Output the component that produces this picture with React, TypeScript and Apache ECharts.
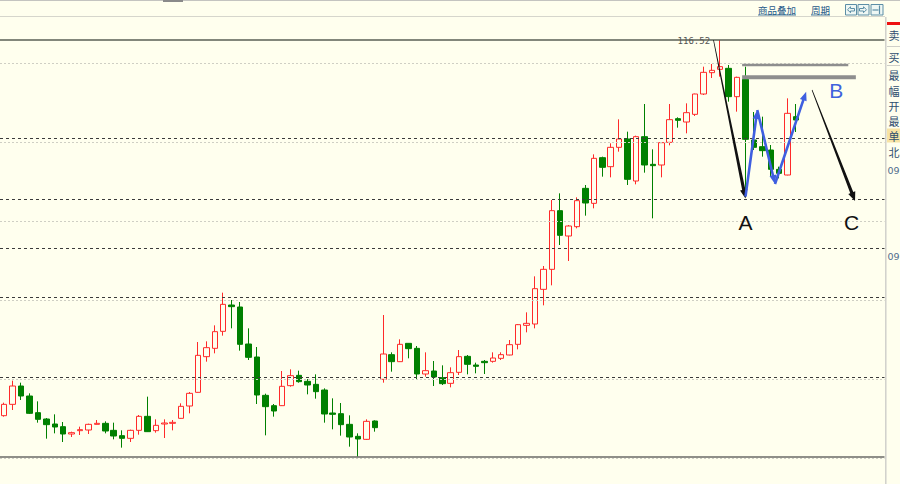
import React, { useEffect, useRef } from "react";
import * as echarts from "echarts";

const BG = "#FFFFEE";

// 105 weekly slots on the time axis; the last ones are still empty
const categories: string[] = Array.from({ length: 105 }, (_, i) => String(i + 1));

const opens = [71.44, 72.8, 75.0, 73.8, 71.8, 71.04, 70.44, 70.12, 69.24, 69.64, 69.72, 70.4, 70.52, 69.68, 69.04, 68.72, 69.68, 71.36, 69.64, 70.44, 70.52, 71.12, 72.6, 74.24, 78.52, 79.52, 81.56, 84.72, 84.48, 80.04, 78.48, 73.88, 72.64, 72.64, 75.04, 76.28, 75.56, 75.2, 74.52, 71.76, 71.68, 70.4, 68.96, 68.6, 70.8, 75.8, 78.76, 77.92, 80.12, 79.52, 76.44, 76.8, 76.0, 75.32, 76.64, 78.56, 77.52, 77.96, 77.96, 78.32, 78.72, 80.0, 82.28, 82.44, 86.6, 89.0, 96.04, 93.0, 94.12, 98.72, 96.92, 102.4, 101.32, 103.64, 104.64, 99.6, 104.92, 101.6, 101.52, 104.24, 107.08, 106.68, 107.6, 110.04, 112.6, 113.0, 113.12, 109.72, 111.8, 104.52, 103.72, 103.32, 101.0, 100.32, 107.32];
const closes = [72.8, 75.0, 73.8, 71.72, 71.0, 70.36, 70.08, 69.24, 69.4, 69.76, 70.4, 70.52, 69.6, 69.0, 68.72, 69.68, 71.36, 69.52, 70.28, 70.56, 70.64, 72.56, 74.12, 78.68, 79.6, 81.52, 84.8, 84.52, 80.0, 78.44, 73.92, 72.52, 72.0, 74.96, 76.24, 75.52, 75.12, 74.32, 71.64, 71.6, 70.36, 68.88, 68.64, 70.76, 70.0, 78.84, 77.92, 80.0, 79.48, 76.44, 76.84, 76.08, 75.28, 76.6, 78.52, 77.6, 77.36, 77.8, 78.36, 78.76, 79.96, 82.36, 82.52, 86.68, 89.0, 96.04, 93.08, 94.2, 97.24, 96.96, 102.32, 101.24, 103.64, 104.64, 99.8, 104.92, 101.52, 101.44, 104.2, 106.96, 106.88, 107.8, 110.04, 112.64, 112.88, 113.32, 109.72, 112.04, 104.6, 103.64, 103.24, 101.0, 100.52, 107.72, 106.92];
const lows = [71.32, 72.12, 73.32, 71.64, 70.6, 68.68, 69.32, 68.28, 68.88, 69.12, 69.24, 70.38, 69.32, 68.6, 67.6, 68.28, 69.16, 69.48, 69.4, 68.76, 69.68, 71.08, 71.72, 74.2, 77.92, 78.92, 81.04, 81.92, 79.24, 78.12, 72.84, 69.08, 71.32, 72.6, 74.92, 75.4, 74.0, 73.48, 70.6, 69.8, 69.04, 67.72, 66.52, 68.52, 69.52, 75.4, 76.72, 77.88, 78.32, 75.72, 76.12, 75.0, 75.12, 74.84, 76.32, 76.4, 76.52, 76.44, 77.8, 78.12, 78.68, 79.4, 81.44, 81.92, 84.68, 87.08, 91.92, 90.0, 93.92, 95.44, 96.32, 100.12, 100.04, 103.12, 99.12, 99.2, 100.6, 95.12, 100.04, 103.88, 106.0, 105.32, 107.4, 109.92, 111.96, 112.12, 109.12, 107.92, 97.72, 103.32, 102.52, 100.12, 99.92, 100.28, 105.48];
const highs = [73.0, 75.64, 75.4, 74.12, 73.16, 71.16, 71.6, 70.68, 69.52, 70.12, 70.48, 70.92, 70.76, 70.6, 69.68, 69.76, 71.52, 73.72, 71.0, 71.0, 70.92, 72.92, 74.28, 80.28, 80.36, 82.28, 86.2, 85.32, 85.08, 81.92, 79.68, 74.08, 72.84, 76.8, 77.0, 76.84, 75.84, 76.4, 74.72, 73.52, 72.96, 71.48, 69.32, 71.0, 70.88, 83.52, 79.04, 80.6, 80.16, 79.8, 79.04, 78.0, 77.48, 77.24, 79.32, 78.72, 77.8, 78.12, 79.04, 79.04, 80.52, 82.44, 83.84, 88.16, 89.4, 97.32, 98.12, 94.32, 97.64, 99.12, 102.8, 102.52, 104.12, 107.0, 105.52, 105.04, 108.84, 103.4, 104.24, 108.84, 107.24, 108.92, 110.08, 113.32, 113.64, 116.52, 113.52, 112.12, 113.32, 107.88, 107.32, 103.92, 101.32, 109.52, 108.84];

// golden-section ratios between the range high and low
const fibRatios = [0.236, 0.382, 0.5, 0.618, 0.809];
// light price grid levels
const gridLevels = [113.76, 104.28, 94.8, 85.32, 75.84, 66.36];

// hand-drawn annotations, in (candle index, price)
const arrowToA = [[84.2, 116.52], [88.0, 97.5]];
const arrowToC = [[95.9, 110.52], [101.0, 97.2]];
const waveAB = [[88.0, 97.72], [89.4, 108.12], [91.5, 99.24], [95.2, 110.32]];
const resistLevels = [113.52, 112.04];
const resistSpans = [[87.6, 100.2], [87.6, 101.1]];
const waveLabelText = ["A", "B", "C"];
const waveLabelPos = [[88.0, 94.6], [98.76, 110.52], [100.6, 94.6]];

const quoteLabels = ["卖", "买", "最", "幅", "开", "最", "单", "北"];
const quoteLabelY = [35, 56.5, 75, 91, 105.5, 120.5, 135.5, 152];
const timeLabels = ["09", "09"];
const timeLabelY = [170.5, 256];

function taper(p1: number[], p2: number[], w1: number, w2: number, headL: number, headW: number) {
  const dx = p2[0] - p1[0];
  const dy = p2[1] - p1[1];
  const len = Math.hypot(dx, dy) || 1;
  const ux = dx / len, uy = dy / len;
  const nx = -uy, ny = ux;
  const b = [p2[0] - ux * headL, p2[1] - uy * headL];
  return [
    [p1[0] + (nx * w1) / 2, p1[1] + (ny * w1) / 2],
    [b[0] + (nx * w2) / 2, b[1] + (ny * w2) / 2],
    [b[0] + (nx * headW) / 2, b[1] + (ny * headW) / 2],
    [p2[0], p2[1]],
    [b[0] - (nx * headW) / 2, b[1] - (ny * headW) / 2],
    [b[0] - (nx * w2) / 2, b[1] - (ny * w2) / 2],
    [p1[0] - (nx * w1) / 2, p1[1] - (ny * w1) / 2],
  ];
}

export default function App() {
  const ref = useRef<HTMLDivElement>(null);

  useEffect(() => {
    const el = ref.current;
    if (!el) return;
    const chart = echarts.init(el, null, { renderer: "svg" });

    const ohlc = opens.map((o, i) => [o, closes[i], lows[i], highs[i]]);
    const hi = Math.max(...highs);
    const lo = Math.min(...lows);
    const N = categories.length;

    const levelLines: any[] = [];
    gridLevels.forEach((v) =>
      levelLines.push({ yAxis: v, lineStyle: { color: "#cfcfc4", type: [2, 2], width: 1 } })
    );
    fibRatios.forEach((r) =>
      levelLines.push({ yAxis: +(hi - r * (hi - lo)).toFixed(3), lineStyle: { color: "#3a3a3a", type: [3, 3], width: 1 } })
    );
    levelLines.push({ yAxis: hi, lineStyle: { color: "#5a5f55", type: "solid", width: 1.5 } });
    levelLines.push({ yAxis: lo, lineStyle: { color: "#6a6a66", type: "solid", width: 1.5 } });

    chart.setOption({
      animation: false,
      backgroundColor: BG,
      grid: { left: -1.72, right: 15.5, top: 17, bottom: 0 },
      xAxis: [
        { type: "category", data: categories, show: false, boundaryGap: true },
        { type: "value", min: -0.5, max: N - 0.5, show: false },
      ],
      yAxis: [{ type: "value", min: 63.24, max: 119.28, show: false }],
      series: [
        {
          type: "candlestick",
          data: ohlc,
          barWidth: 6,
          itemStyle: {
            color: BG,
            color0: "#008000",
            borderColor: "#FF2A2A",
            borderColor0: "#008000",
            borderWidth: 1,
          },
          markLine: {
            silent: true,
            symbol: ["none", "none"],
            label: { show: false },
            emphasis: { disabled: true },
            data: levelLines,
          },
        },
      ],
    });

    const px = (p: number[]) =>
      chart.convertToPixel({ xAxisIndex: 1, yAxisIndex: 0 } as any, p) as unknown as number[];

    const g: any[] = [];
    // chrome: top bar
    g.push({ type: "rect", shape: { x: 0, y: 0, width: 900, height: 1 }, style: { fill: "#c4c4c0" }, silent: true });
    g.push({ type: "rect", shape: { x: 163, y: 0, width: 20, height: 2 }, style: { fill: "#8a8a8a" }, silent: true });
    g.push({ type: "line", shape: { x1: 0, y1: 16.5, x2: 885, y2: 16.5 }, style: { stroke: "#d6d6cc", lineWidth: 1 }, silent: true });
    g.push({ type: "text", x: 758, y: 10, style: { text: "商品叠加", fill: "#1f5a8a", font: "9.5px 'Noto Sans CJK SC'", verticalAlign: "middle" }, silent: true });
    g.push({ type: "line", shape: { x1: 758, y1: 15, x2: 796, y2: 15 }, style: { stroke: "#1f5a8a", lineWidth: 0.8 }, silent: true });
    g.push({ type: "text", x: 811, y: 10, style: { text: "周期", fill: "#1f5a8a", font: "9.5px 'Noto Sans CJK SC'", verticalAlign: "middle" }, silent: true });
    g.push({ type: "line", shape: { x1: 811, y1: 15, x2: 830, y2: 15 }, style: { stroke: "#1f5a8a", lineWidth: 0.8 }, silent: true });
    const btnX = [845, 857.5, 870.5];
    btnX.forEach((bx, i) => {
      g.push({ type: "rect", shape: { x: bx + 0.5, y: 4.5, width: i === 2 ? 12 : 11, height: 10.5 }, style: { fill: "#eef7f4", stroke: "#5c8ea6", lineWidth: 1 }, silent: true });
    });
    g.push({ type: "polygon", shape: { points: [[847.5, 9.7], [850.5, 6.8], [850.5, 8.5], [854.5, 8.5], [854.5, 11], [850.5, 11], [850.5, 12.7]] }, style: { fill: "none", stroke: "#5c8ea6", lineWidth: 1 }, silent: true });
    g.push({ type: "polygon", shape: { points: [[866.5, 9.7], [863.5, 6.8], [863.5, 8.5], [859.5, 8.5], [859.5, 11], [863.5, 11], [863.5, 12.7]] }, style: { fill: "none", stroke: "#5c8ea6", lineWidth: 1 }, silent: true });
    g.push({ type: "line", shape: { x1: 872.5, y1: 10, x2: 878.5, y2: 10 }, style: { stroke: "#5c8ea6", lineWidth: 1.2 }, silent: true });
    g.push({ type: "line", shape: { x1: 879.5, y1: 5.5, x2: 879.5, y2: 14 }, style: { stroke: "#5c8ea6", lineWidth: 1.2 }, silent: true });

    // chrome: right quote panel
    g.push({ type: "rect", shape: { x: 885, y: 17, width: 15, height: 467 }, style: { fill: BG }, silent: true });
    g.push({ type: "line", shape: { x1: 885.5, y1: 17, x2: 885.5, y2: 484 }, style: { stroke: "#d2d2cc", lineWidth: 1 }, silent: true });
    g.push({ type: "line", shape: { x1: 886.5, y1: 17, x2: 886.5, y2: 484 }, style: { stroke: "#e6e6dc", lineWidth: 1 }, silent: true });
    g.push({ type: "rect", shape: { x: 887, y: 22, width: 13, height: 3 }, style: { fill: "#EE1111" }, silent: true });
    g.push({ type: "line", shape: { x1: 887, y1: 46.5, x2: 900, y2: 46.5 }, style: { stroke: "#cfcfc8", lineWidth: 1 }, silent: true });
    g.push({ type: "line", shape: { x1: 887, y1: 65.5, x2: 900, y2: 65.5 }, style: { stroke: "#cfcfc8", lineWidth: 1 }, silent: true });
    g.push({ type: "rect", shape: { x: 887, y: 128.5, width: 13, height: 14 }, style: { fill: "#F7E3A4" }, silent: true });
    quoteLabels.forEach((t, i) => {
      g.push({ type: "text", x: 888.5, y: quoteLabelY[i], style: { text: t, fill: "#2e4d6e", font: "11px 'Noto Sans CJK SC'", lineHeight: 12, verticalAlign: "middle" }, silent: true });
    });
    timeLabels.forEach((t, i) => {
      g.push({ type: "text", x: 887.5, y: timeLabelY[i], style: { text: t, fill: "#4f6d8c", font: "9.5px 'DejaVu Sans'", verticalAlign: "middle" }, silent: true });
    });

    // high label
    const hp = px([83.8, hi]);
    g.push({ type: "text", x: hp[0], y: hp[1] + 0.5, style: { text: hi.toFixed(2), fill: "#555555", font: "9px 'DejaVu Sans Mono'", align: "right", verticalAlign: "middle" }, silent: true, z: 10 });

    // grey resistance bars
    resistLevels.forEach((lv, i) => {
      const a = px([resistSpans[i][0], lv]);
      const b = px([resistSpans[i][1], lv]);
      g.push({ type: "line", shape: { x1: a[0], y1: a[1], x2: b[0], y2: b[1] }, style: { stroke: "#8e8e8e", lineWidth: i === 0 ? 2.6 : 4 }, silent: true, z: 10 });
    });

    // black tapered arrows
    [arrowToA, arrowToC].forEach((seg) => {
      const a = px(seg[0]);
      const b = px(seg[1]);
      g.push({ type: "polygon", shape: { points: taper(a, b, 0.7, 3.2, 9, 7.5) }, style: { fill: "#111111" }, silent: true, z: 10 });
    });

    // blue wave arrows
    for (let i = 0; i < waveAB.length - 1; i++) {
      const a = px(waveAB[i]);
      const b = px(waveAB[i + 1]);
      g.push({ type: "polygon", shape: { points: taper(a, b, 2.6, 2.6, 9, 7) }, style: { fill: "#3F5FE0" }, silent: true, z: 11 });
    }

    // wave labels
    waveLabelText.forEach((t, i) => {
      const p = px(waveLabelPos[i]);
      g.push({ type: "text", x: p[0], y: p[1], style: { text: t, fill: t === "B" ? "#4062DD" : "#111111", font: "21px 'Liberation Sans'", align: "center", verticalAlign: "middle" }, silent: true, z: 11 });
    });

    chart.setOption({ graphic: g });

    return () => chart.dispose();
  }, []);

  return <div ref={ref} style={{ position: "absolute", left: 0, top: 0, width: 900, height: 484 }} />;
}
